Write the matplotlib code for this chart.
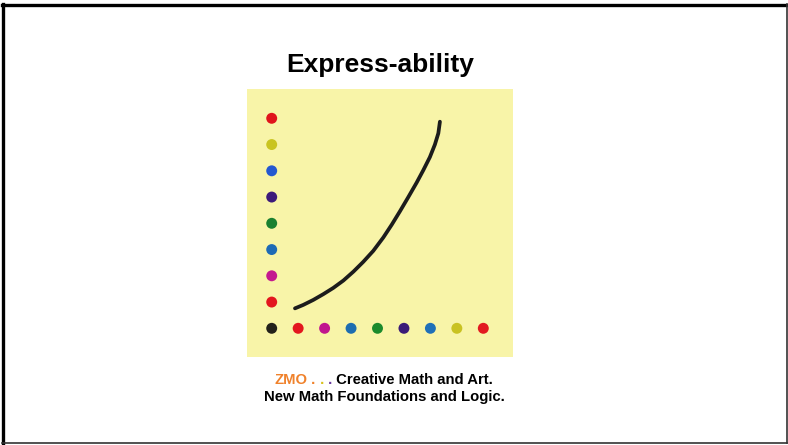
import matplotlib
matplotlib.use("Agg")
import matplotlib.pyplot as plt
from matplotlib.lines import Line2D

# ---- data ----
title = "Express-ability"
x_dot_pos = [0, 1, 2, 3, 4, 5, 6, 7, 8]
x_dot_colors = ["#23211a", "#e3161e", "#c0168e", "#1d6db0", "#1b8a2c",
                "#3b1b78", "#1f70b8", "#c9c221", "#e21a20"]
y_dot_pos = [1, 2, 3, 4, 5, 6, 7, 8]
y_dot_colors = ["#e3161e", "#c4198f", "#1e6ab5", "#1a8030",
                "#3c1a7a", "#2458d0", "#c9c420", "#e0141c"]
curve_x = [0.88, 1.19, 1.57, 1.95, 2.33, 2.71, 3.09, 3.46, 3.84, 4.22,
           4.54, 4.85, 5.16, 5.48, 5.73, 5.98, 6.17, 6.30, 6.36]
curve_y = [0.76, 0.89, 1.08, 1.30, 1.54, 1.82, 2.16, 2.53, 2.95, 3.46,
           3.95, 4.46, 4.99, 5.55, 6.02, 6.52, 7.00, 7.43, 7.87]
caption_zmo = "ZMO"
caption_line1 = "Creative Math and Art."
caption_line2 = "New Math Foundations and Logic."

plt.rcParams['font.family'] = ['Liberation Sans', 'DejaVu Sans']

W, H = 788, 445
fig = plt.figure(figsize=(W / 100, H / 100), dpi=100)
fig.patch.set_facecolor("white")

def fx(px):
    return px / W

def fy(py):
    return 1 - py / H

# frame
fig.add_artist(Line2D([fx(2), fx(787)], [fy(5), fy(5)], color="black", lw=2.4))
fig.add_artist(Line2D([fx(3.2), fx(3.2)], [fy(4), fy(443)], color="black", lw=2.4))
fig.add_artist(Line2D([fx(786.5), fx(786.5)], [fy(4), fy(443)], color="#333333", lw=1.2))
fig.add_artist(Line2D([fx(2), fx(787)], [fy(442.5), fy(442.5)], color="#333333", lw=1.2))

# yellow panel
ax = fig.add_axes([fx(247), fy(357), (513 - 247) / W, (357 - 89) / H])
ax.set_facecolor("#f8f4a8")
for s in ax.spines.values():
    s.set_visible(False)
ax.set_xticks([])
ax.set_yticks([])
ax.set_xlim(-0.934, 9.123)
ax.set_ylim(-1.093, 9.116)

ax.scatter(x_dot_pos, [0] * len(x_dot_pos), s=62, c=x_dot_colors, zorder=3, linewidths=0)
ax.scatter([0] * len(y_dot_pos), y_dot_pos, s=62, c=y_dot_colors, zorder=3, linewidths=0)
ax.plot(curve_x, curve_y, color="#1c1c1c", lw=2.7, solid_capstyle="round",
        solid_joinstyle="round", zorder=4)

# title
fig.text(fx(380), fy(65), title, ha="center", va="center",
         fontsize=19, fontweight="bold", color="black")

# caption line 1 (multi-coloured)
y1 = fy(380)
renderer = fig.canvas.get_renderer()
parts = [(caption_zmo, "#f0822c"), (" .", "#f0822c"), (" .", "#d9c21e"),
         (" .", "#6a3aa0"), (" " + caption_line1, "black")]
texts = []
total = 0
for txt, col in parts:
    t = fig.text(0, y1, txt, ha="left", va="center", fontsize=10.75,
                 fontweight="bold", color=col)
    w = t.get_window_extent(renderer=renderer).width / W
    texts.append((t, w))
    total += w
x = fx(383.5) - total / 2
for t, w in texts:
    t.set_x(x)
    x += w

fig.text(fx(384), fy(397), caption_line2, ha="center", va="center",
         fontsize=10.75, fontweight="bold", color="black")

fig.savefig("out.png", dpi=100, facecolor="white")
